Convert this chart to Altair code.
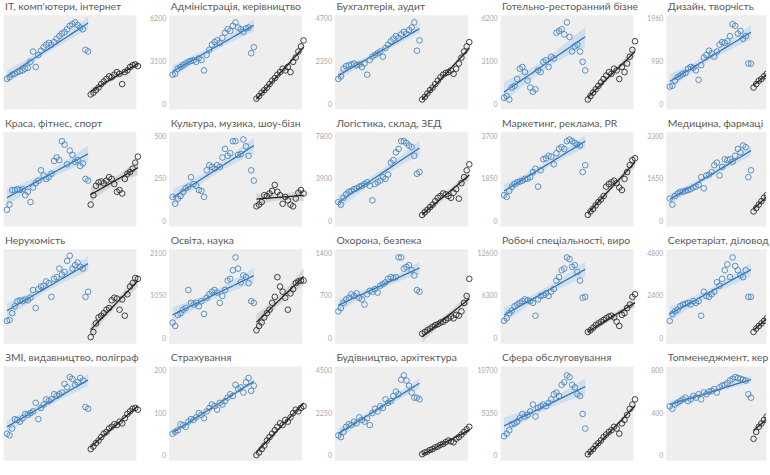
import altair as alt
import numpy as np
import pandas as pd

titles = [
    "IT, комп'ютери, інтернет", "Адміністрація, керівництво", "Бухгалтерія, аудит",
    "Готельно-ресторанний бізне", "Дизайн, творчість",
    "Краса, фітнес, спорт", "Культура, музика, шоу-бізн", "Логістика, склад, ЗЕД",
    "Маркетинг, реклама, PR", "Медицина, фармаці",
    "Нерухомість", "Освіта, наука", "Охорона, безпека",
    "Робочі спеціальності, виро", "Секретаріат, діловод",
    "ЗМІ, видавництво, поліграф", "Страхування", "Будівництво, архітектура",
    "Сфера обслуговування", "Топменеджмент, кер",
]
ymax = [8400, 6200, 4700, 6200, 1960,
        900, 500, 7800, 3700, 3300,
        1300, 2100, 1400, 12600, 4800,
        300, 200, 4500, 10700, 800]

it_blue = [30, 32, 35, 36, 38, 39, 40, 42, 43, 50, 62, 44, 58, 63, 67, 70, 72, 70, 73, 77, 80, 83, 85, 88, 92, 94, 96, 93, 90, 88, 64, 62]
it_black = [12, 14, 17, 20, 24, 27, 30, 33, 32, 35, 38, 36, 24, 38, 40, 44, 46, 47, 45]
adm_blue = [35, 36, 42, 44, 46, 48, 50, 51, 52, 50, 54, 52, 40, 58, 64, 70, 73, 75, 72, 78, 84, 88, 86, 92, 96, 90, 88, 85, 89, 90, 60, 67]
adm_black = [7, 10, 14, 17, 20, 24, 28, 31, 35, 38, 42, 40, 44, 38, 50, 55, 62, 68, 75]
buh_blue = [30, 33, 42, 45, 46, 47, 48, 46, 47, 44, 48, 35, 52, 56, 58, 60, 62, 56, 66, 70, 74, 77, 80, 78, 82, 85, 83, 87, 90, 96, 63, 75]
buh_black = [6, 9, 13, 17, 20, 24, 28, 32, 35, 37, 38, 40, 36, 42, 48, 55, 62, 68, 73]
hotel_blue = [8, 10, 6, 20, 22, 30, 42, 44, 38, 28, 20, 15, 18, 40, 38, 50, 52, 44, 56, 54, 84, 86, 88, 82, 96, 79, 62, 68, 70, 62, 50, 40]
hotel_black = [6, 10, 14, 18, 22, 26, 30, 34, 38, 36, 42, 40, 30, 44, 38, 48, 56, 64, 74]
diz_blue = [21, 22, 28, 32, 34, 36, 37, 42, 44, 43, 40, 29, 46, 55, 58, 63, 60, 56, 62, 70, 73, 72, 74, 80, 94, 92, 83, 86, 77, 80, 48, 48]
diz_black = [20, 24, 28, 30, 33, 36, 38, 40, 42, 45, 48, 50, 46, 52, 55, 58, 60, 62, 65]

krasa_blue = [14, 20, 37, 37, 38, 37, 38, 31, 35, 23, 40, 45, 48, 60, 54, 50, 52, 56, 71, 75, 72, 94, 90, 67, 83, 78, 70, 72, 65, 68, 50, 48]
krasa_black = [20, 31, 42, 46, 47, 45, 48, 52, 50, 44, 35, 37, 33, 50, 56, 58, 62, 69, 76]
kult_blue = [29, 21, 27, 30, 35, 39, 41, 52, 44, 42, 37, 36, 29, 60, 66, 64, 62, 66, 64, 75, 85, 77, 80, 94, 94, 78, 79, 96, 88, 77, 60, 48]
kult_black = [18, 20, 23, 31, 30, 33, 36, 43, 35, 31, 21, 29, 25, 20, 18, 27, 34, 37, 33]
log_blue = [23, 20, 28, 32, 35, 36, 38, 39, 41, 42, 44, 46, 42, 25, 44, 46, 48, 52, 50, 55, 69, 72, 81, 85, 94, 94, 92, 89, 87, 77, 56, 58]
log_black = [8, 11, 14, 17, 20, 24, 28, 30, 33, 32, 30, 28, 34, 38, 27, 45, 52, 60, 67]
mark_blue = [31, 29, 36, 41, 44, 46, 47, 48, 50, 50, 52, 58, 62, 41, 60, 73, 74, 77, 76, 67, 80, 85, 87, 85, 94, 96, 94, 92, 90, 89, 58, 66]
mark_black = [8, 12, 15, 19, 23, 26, 30, 41, 44, 46, 48, 45, 40, 37, 50, 58, 66, 72, 74]
med_blue = [27, 20, 30, 33, 35, 35, 36, 37, 38, 40, 41, 43, 52, 39, 54, 55, 58, 66, 69, 54, 64, 73, 72, 73, 70, 77, 85, 81, 89, 87, 52, 60]
med_black = [12, 16, 20, 24, 28, 31, 34, 37, 40, 43, 46, 44, 40, 48, 52, 56, 60, 64, 68]

neruh_blue = [21, 22, 30, 38, 44, 45, 44, 46, 45, 48, 57, 36, 58, 61, 62, 67, 65, 49, 70, 72, 82, 75, 78, 91, 97, 82, 86, 89, 84, 82, 49, 55]
neruh_black = [2, 8, 18, 25, 27, 30, 34, 36, 45, 48, 47, 34, 46, 27, 52, 61, 65, 71, 70]
osv_blue = [19, 15, 28, 30, 34, 36, 57, 42, 40, 42, 38, 44, 29, 48, 52, 55, 57, 54, 42, 50, 57, 68, 70, 80, 95, 82, 66, 74, 72, 65, 44, 42]
osv_black = [10, 15, 19, 25, 30, 34, 42, 49, 72, 61, 55, 48, 34, 53, 58, 65, 67, 68, 68]
okh_blue = [32, 36, 42, 46, 48, 52, 50, 53, 48, 46, 40, 52, 56, 55, 58, 54, 62, 64, 66, 70, 72, 71, 72, 95, 95, 82, 84, 86, 80, 74, 57, 55]
okh_black = [6, 8, 10, 12, 14, 16, 17, 19, 20, 22, 24, 26, 24, 28, 27, 32, 42, 50, 70]
rob_blue = [21, 24, 30, 33, 38, 40, 42, 44, 46, 45, 44, 42, 27, 46, 50, 51, 53, 50, 55, 58, 68, 72, 80, 82, 95, 93, 84, 86, 78, 68, 48, 49]
rob_black = [8, 10, 13, 16, 18, 20, 22, 24, 26, 27, 25, 20, 15, 28, 30, 36, 40, 49, 52]
sekr_blue = [21, 29, 32, 34, 38, 40, 41, 42, 40, 44, 42, 44, 27, 55, 50, 49, 52, 55, 66, 62, 70, 80, 87, 72, 95, 85, 80, 74, 72, 80, 49, 49]
sekr_black = [8, 12, 15, 18, 21, 24, 27, 30, 33, 36, 38, 40, 36, 42, 45, 48, 52, 55, 58]

zmi_blue = [26, 24, 32, 43, 42, 40, 44, 49, 48, 50, 52, 62, 43, 56, 60, 66, 64, 66, 72, 70, 72, 74, 84, 80, 92, 90, 83, 86, 91, 88, 57, 55]
zmi_black = [8, 11, 15, 18, 22, 26, 28, 32, 34, 37, 36, 40, 38, 44, 49, 52, 55, 56, 54]
strakh_blue = [26, 28, 30, 37, 36, 34, 40, 43, 42, 45, 50, 48, 44, 52, 56, 60, 58, 54, 62, 60, 64, 68, 72, 70, 83, 78, 80, 74, 86, 91, 76, 82]
strakh_black = [1, 4, 8, 12, 18, 22, 26, 30, 34, 38, 36, 42, 40, 45, 50, 54, 52, 56, 58]
bud_blue = [24, 22, 28, 34, 37, 36, 40, 38, 45, 42, 40, 44, 36, 50, 55, 52, 58, 56, 66, 62, 64, 70, 75, 72, 89, 94, 88, 82, 74, 68, 68, 66]
bud_black = [2, 4, 5, 7, 8, 10, 11, 13, 14, 16, 18, 17, 16, 20, 22, 25, 28, 31, 34]
sfera_blue = [23, 26, 30, 37, 38, 40, 44, 49, 46, 48, 52, 60, 46, 56, 58, 60, 58, 62, 66, 72, 74, 70, 83, 86, 94, 92, 83, 80, 72, 70, 49, 32]
sfera_black = [2, 5, 8, 12, 15, 18, 22, 25, 28, 30, 34, 32, 26, 38, 42, 48, 55, 60, 66]
top_blue = [58, 55, 60, 62, 64, 66, 68, 64, 66, 70, 68, 72, 66, 74, 72, 75, 76, 78, 74, 80, 82, 83, 85, 88, 90, 92, 91, 90, 89, 88, 72, 68]
top_black = [20, 28, 34, 38, 42, 46, 50, 52, 55, 58, 60, 62, 58, 64, 66, 68, 70, 72, 74]

blues = [it_blue, adm_blue, buh_blue, hotel_blue, diz_blue,
         krasa_blue, kult_blue, log_blue, mark_blue, med_blue,
         neruh_blue, osv_blue, okh_blue, rob_blue, sekr_blue,
         zmi_blue, strakh_blue, bud_blue, sfera_blue, top_blue]
blacks = [it_black, adm_black, buh_black, hotel_black, diz_black,
          krasa_black, kult_black, log_black, mark_black, med_black,
          neruh_black, osv_black, okh_black, rob_black, sekr_black,
          zmi_black, strakh_black, bud_black, sfera_black, top_black]

BLUE_PT, BLUE_LINE, BLUE_BAND = "#4a86c0", "#3574b0", "#bcd5ec"
BLK_PT, BLK_LINE, BLK_BAND = "#2b2b2b", "#222222", "#c4c4c4"
PX_PER_UNIT = 2.64
FULL_W, LAST_W, H = 134, 101, 95


def fit_band(xs, ys, t):
    xs = np.asarray(xs, float)
    ys = np.asarray(ys, float)
    b, a = np.polyfit(xs, ys, 1)
    n = len(xs)
    res = ys - (a + b * xs)
    s = np.sqrt((res ** 2).sum() / (n - 2))
    xm = xs.mean()
    sxx = ((xs - xm) ** 2).sum()
    xg = np.linspace(xs.min(), xs.max(), 25)
    fit = a + b * xg
    se = s * np.sqrt(1.0 / n + (xg - xm) ** 2 / sxx)
    return xg, fit, fit - t * se, fit + t * se


def panel(i):
    title, ym = titles[i], ymax[i]
    col = i % 5
    bl = np.array(blues[i], float) * ym / 100.0
    bk = np.array(blacks[i], float) * ym / 100.0
    n1, n2 = len(bl), len(bk)
    xb = np.arange(n1)
    xk = np.arange(n1, n1 + n2)
    pts = pd.DataFrame({
        "x": np.concatenate([xb, xk]),
        "v": np.concatenate([bl, bk]),
        "c": [BLUE_PT] * n1 + [BLK_PT] * n2,
    })
    rows = []
    for grp, xs, ys, t, bc, lc in [("a", xb, bl, 2.04, BLUE_BAND, BLUE_LINE),
                                   ("b", xk, bk, 2.11, BLK_BAND, BLK_LINE)]:
        xg, fit, lo, hi = fit_band(xs, ys, t)
        rows.append(pd.DataFrame({"x": xg, "fit": fit, "lo": lo, "hi": hi,
                                  "bc": bc, "lc": lc, "grp": grp}))
    bands = pd.concat(rows, ignore_index=True)

    w = LAST_W if col == 4 else FULL_W
    clip = col == 4
    xsc = alt.Scale(domain=[-1.5, -1.5 + w / PX_PER_UNIT], nice=False, zero=False)
    ysc = alt.Scale(domain=[-0.05 * ym, 1.05 * ym], nice=False, zero=False)
    if col == 0:
        yax = None
    else:
        yax = alt.Axis(values=[0, ym // 2, ym], format="d", title=None, grid=False,
                       ticks=False, domain=False, labelColor="#a6a6a6",
                       labelFontSize=7, labelFont="Lato", labelPadding=3)
    X = alt.X("x:Q", scale=xsc, axis=None)

    band = alt.Chart(bands).mark_area(clip=clip, opacity=0.6).encode(
        x=X, y=alt.Y("lo:Q", scale=ysc, axis=yax), y2="hi:Q",
        fill=alt.Fill("bc:N", scale=None), detail="grp:N")
    line = alt.Chart(bands).mark_line(clip=clip, strokeWidth=1.3).encode(
        x=X, y=alt.Y("fit:Q", scale=ysc, axis=yax),
        stroke=alt.Stroke("lc:N", scale=None), detail="grp:N")
    dots = alt.Chart(pts).mark_point(filled=False, size=32, strokeWidth=1,
                                     opacity=0.9, clip=clip).encode(
        x=X, y=alt.Y("v:Q", scale=ysc, axis=yax),
        stroke=alt.Stroke("c:N", scale=None))
    return alt.layer(band, line, dots).properties(
        width=w, height=H,
        title=alt.TitleParams(text=title, anchor="start", frame="group",
                              font="Lato", fontSize=10.5, fontWeight="normal",
                              color="#5a5a5a", offset=2, baseline="alphabetic",
                              dx=2, dy=8))


chart = alt.concat(*[panel(i) for i in range(20)], columns=5,
                   spacing={"row": 23, "column": 33}, bounds="flush").properties(
    padding={"left": 1, "top": 0, "right": 0, "bottom": 0}
).configure_view(fill="#eeeeee", stroke="transparent")

chart.save("out.html", embed_options={"renderer": "svg", "actions": False})
